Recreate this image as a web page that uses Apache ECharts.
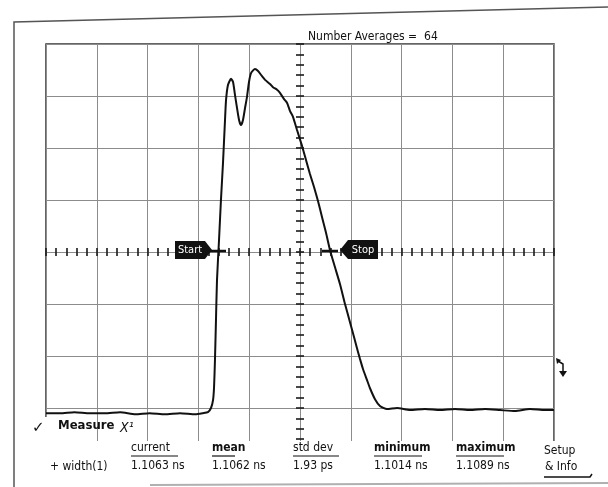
<!DOCTYPE html>
<html>
<head>
<meta charset="utf-8">
<script src="https://cdn.jsdelivr.net/npm/echarts@6/dist/echarts.min.js"></script>
<style>
    html, body { margin: 0; padding: 0; background: #fff; }
    #main { width: 608px; height: 487px; }
</style>
</head>
<body>
<div id="main"></div>
<script>
    // time in ns from screen centre (500 ps/div), amplitude in divisions
    var timeNs = [-2.50, -2.36, -2.22, -2.07, -1.92, -1.77, -1.62, -1.48, -1.33, -1.18, -1.03, -0.955,
        -0.906, -0.876, -0.856, -0.846, -0.837, -0.827, -0.817, -0.797, -0.778, -0.758, -0.738, -0.728,
        -0.709, -0.679, -0.659, -0.640, -0.620, -0.600, -0.581, -0.561, -0.541, -0.522, -0.502, -0.482,
        -0.443, -0.413, -0.374, -0.344, -0.295, -0.266, -0.226, -0.197, -0.157, -0.128, -0.098, -0.069,
        -0.030, 0.020, 0.059, 0.098, 0.138, 0.177, 0.217, 0.256, 0.295, 0.344, 0.394, 0.443, 0.492,
        0.531, 0.561, 0.591, 0.620, 0.659, 0.689, 0.738, 0.787, 0.856, 0.955, 1.083, 1.230, 1.378,
        1.526, 1.673, 1.821, 1.969, 2.116, 2.264, 2.411, 2.50];
    var amplitude = [-3.10, -3.10, -3.08, -3.10, -3.10, -3.08, -3.12, -3.10, -3.12, -3.10, -3.12, -3.10,
        -3.08, -3.00, -2.85, -2.60, -2.08, -1.31, -0.54, 0.23, 1.00, 1.71, 2.54, 2.92,
        3.21, 3.33, 3.27, 3.02, 2.77, 2.54, 2.44, 2.54, 2.77, 2.98, 3.27, 3.44,
        3.52, 3.48, 3.38, 3.31, 3.23, 3.17, 3.12, 3.06, 2.94, 2.87, 2.71, 2.60,
        2.35, 2.04, 1.77, 1.50, 1.25, 0.98, 0.67, 0.37, 0.04, -0.29, -0.62, -1.00, -1.35,
        -1.63, -1.85, -2.06, -2.25, -2.46, -2.62, -2.83, -2.96, -3.02, -3.00, -3.04, -3.02, -3.04,
        -3.02, -3.04, -3.02, -3.04, -3.06, -3.02, -3.04, -3.04];

    var headerLabels = ['current', 'mean', 'std dev', 'minimum', 'maximum'];
    var widthValues = ['1.1063 ns', '1.1062 ns', '1.93 ps', '1.1014 ns', '1.1089 ns'];
    var columnX = [131, 212, 293, 374, 456];
    var headerWidth = [47, 23, 46, 48, 48];
    var numberAverages = 64;

    var font = "'Liberation Sans Narrow', 'DejaVu Sans Condensed', sans-serif";
    var tickStyle = { color: '#1a1a1a', width: 1.6 };
    var gridGray = '#8c8c8c';

    function xAxisOf(pos, withGrid) {
        return {
            type: 'value', min: -2.5, max: 2.5, interval: 0.5, position: pos,
            axisLine: { show: true, onZero: true, onZeroAxisIndex: 0, lineStyle: { color: gridGray } },
            axisTick: { show: true, inside: true, length: 4, lineStyle: tickStyle },
            minorTick: { show: true, splitNumber: 5, length: 4, lineStyle: tickStyle },
            axisLabel: { show: false },
            splitLine: { show: withGrid, lineStyle: { color: gridGray, width: 1 } }
        };
    }
    function yAxisOf(pos, withGrid) {
        return {
            type: 'value', min: -4, max: 4, interval: 1, position: pos,
            axisLine: { show: true, onZero: true, onZeroAxisIndex: 0, lineStyle: { color: gridGray } },
            axisTick: { show: true, inside: true, length: 4, lineStyle: tickStyle },
            minorTick: { show: true, splitNumber: 5, length: 4, lineStyle: tickStyle },
            axisLabel: { show: false },
            splitLine: { show: withGrid, lineStyle: { color: gridGray, width: 1 } }
        };
    }

    var trace = [];
    for (var i = 0; i < timeNs.length; i++) {
        trace.push([timeNs[i], amplitude[i]]);
    }

    var graphics = [
        // lower part of the screen is covered by the measurement panel
        { type: 'rect', z: 100, shape: { x: 15, y: 441, width: 593, height: 46 }, style: { fill: '#fff' } },
        { type: 'rect', z: 100, shape: { x: 40, y: 417, width: 10, height: 24 }, style: { fill: '#fff' } },
        // paper frame
        { type: 'polyline', z: 101, shape: { points: [[14, 487], [14, 22], [608, 7]] }, style: { stroke: '#555', lineWidth: 1.5, fill: null } },
        { type: 'line', z: 101, shape: { x1: 150, y1: 485, x2: 608, y2: 483 }, style: { stroke: '#b0b0b0', lineWidth: 2 } },
        { type: 'text', z: 102, x: 308, y: 37, style: { text: 'Number Averages =  ' + numberAverages, font: '12px ' + font, fill: '#111', textVerticalAlign: 'middle' } },
        // start / stop markers and crossing marks
        { type: 'line', z: 102, shape: { x1: 208, y1: 251, x2: 226, y2: 251 }, style: { stroke: '#111', lineWidth: 2.5 } },
        { type: 'line', z: 102, shape: { x1: 322, y1: 251, x2: 338, y2: 251 }, style: { stroke: '#111', lineWidth: 2.5 } },
        { type: 'polygon', z: 102, shape: { points: [[175, 241], [205, 241], [212, 250], [205, 259], [175, 259]] }, style: { fill: '#111' } },
        { type: 'text', z: 103, x: 190, y: 250, style: { text: 'Start', font: '11px ' + font, fill: '#fff', textAlign: 'center', textVerticalAlign: 'middle' } },
        { type: 'polygon', z: 102, shape: { points: [[340, 250], [348, 240], [378, 240], [378, 259], [348, 259]] }, style: { fill: '#111' } },
        { type: 'text', z: 103, x: 363, y: 250, style: { text: 'Stop', font: '11px ' + font, fill: '#fff', textAlign: 'center', textVerticalAlign: 'middle' } },
        // hook arrow at right edge
        { type: 'polyline', z: 102, shape: { points: [[558, 361], [563, 364], [563, 373]] }, style: { stroke: '#111', lineWidth: 1.5, fill: null } },
        { type: 'polygon', z: 102, shape: { points: [[559, 371], [567, 371], [563, 377]] }, style: { fill: '#111' } },
        { type: 'polygon', z: 102, shape: { points: [[556, 358], [561, 360], [557, 364]] }, style: { fill: '#111' } },
        // measurement panel
        { type: 'text', z: 102, x: 32, y: 428, style: { text: '\u2713', font: '15px DejaVu Sans', fill: '#111', textVerticalAlign: 'middle' } },
        { type: 'text', z: 102, x: 58, y: 426, style: { text: 'Measure', font: 'bold 13px ' + font, fill: '#111', textVerticalAlign: 'middle' } },
        { type: 'text', z: 102, x: 120, y: 428, style: { text: 'X\u00b9', font: 'italic 14px ' + font, fill: '#111', textVerticalAlign: 'middle' } },
        { type: 'text', z: 102, x: 50, y: 467, style: { text: '+ width(1)', font: '12px ' + font, fill: '#111', textVerticalAlign: 'middle' } },
        { type: 'text', z: 102, x: 544, y: 451, style: { text: 'Setup', font: '12px ' + font, fill: '#111', textVerticalAlign: 'middle' } },
        { type: 'text', z: 102, x: 545, y: 467, style: { text: '& Info', font: '12px ' + font, fill: '#111', textVerticalAlign: 'middle' } },
        { type: 'polyline', z: 102, shape: { points: [[544, 477], [590, 477], [592, 474]] }, style: { stroke: '#111', lineWidth: 1.5, fill: null } }
    ];
    for (var c = 0; c < headerLabels.length; c++) {
        graphics.push({ type: 'text', z: 102, x: columnX[c], y: 448,
            style: { text: headerLabels[c], font: (c === 0 || c === 2 ? '' : 'bold ') + '12px ' + font, fill: '#111', textVerticalAlign: 'middle' } });
        graphics.push({ type: 'line', z: 102, shape: { x1: columnX[c], y1: 456, x2: columnX[c] + headerWidth[c], y2: 456 },
            style: { stroke: '#111', lineWidth: 1.2 } });
        graphics.push({ type: 'text', z: 102, x: columnX[c], y: 466,
            style: { text: widthValues[c], font: '12px ' + font, fill: '#111', textVerticalAlign: 'middle' } });
    }

    var option = {
        animation: false,
        backgroundColor: '#fff',
        grid: { left: 46, right: 54, top: 44, bottom: 27, show: true, borderColor: '#333', borderWidth: 1.5 },
        xAxis: [xAxisOf('bottom', true), xAxisOf('top', false)],
        yAxis: [yAxisOf('left', true), yAxisOf('right', false)],
        series: [{
            type: 'line',
            xAxisIndex: 0,
            yAxisIndex: 0,
            data: trace,
            showSymbol: false,
            smooth: 0.2,
            z: 5,
            lineStyle: { color: '#111', width: 2 }
        }],
        graphic: graphics
    };

    var myChart = echarts.init(document.getElementById('main'));
    myChart.setOption(option);
</script>
</body>
</html>
